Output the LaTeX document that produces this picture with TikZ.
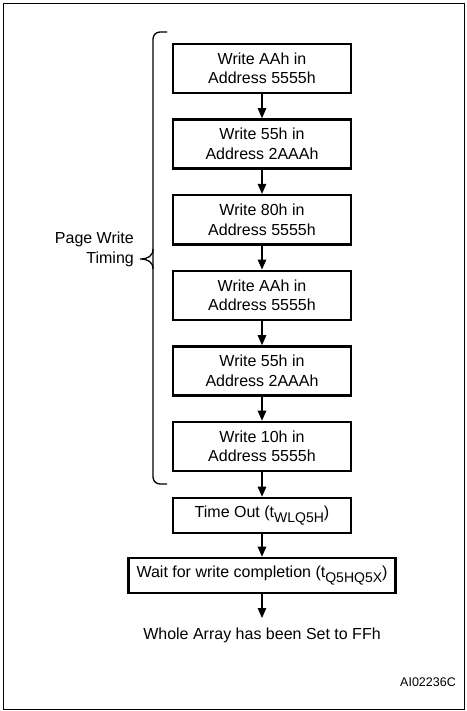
\documentclass[tikz,border=0pt]{standalone}
\usepackage{fontspec}
\setmainfont{Liberation Sans}
\usetikzlibrary{arrows.meta}
\newcommand\lowsub[1]{\raisebox{-4.5pt}{\fontsize{14}{14}\selectfont #1}}
\begin{document}
\begin{tikzpicture}[x=1pt,y=-1pt,
  stepbox/.style={draw, line width=2.6pt, minimum width=178pt, minimum height=49pt,
    align=center, inner sep=0pt, font=\fontsize{16}{19.5}\selectfont},
  flatbox/.style={draw, line width=2.6pt, minimum height=35pt, inner sep=0pt,
    font=\fontsize{16}{19.5}\selectfont},
  arr/.style={line width=1.3pt, -{Triangle[length=10pt,width=8.5pt]}},
  lbl/.style={font=\fontsize{16}{20}\selectfont, inner sep=0pt},
  brace/.style={line width=1.3pt}]
\useasboundingbox (0,0) rectangle (466,711);
\draw[line width=1pt] (3,4) rectangle (464,709);

\node[stepbox] (b1) at (262,68.5) {Write AAh in\\Address 5555h};
\node[stepbox] (b2) at (262,144) {Write 55h in\\Address 2AAAh};
\node[stepbox] (b3) at (262,219.7) {Write 80h in\\Address 5555h};
\node[stepbox] (b4) at (262,295.3) {Write AAh in\\Address 5555h};
\node[stepbox] (b5) at (262,371) {Write 55h in\\Address 2AAAh};
\node[stepbox] (b6) at (262,446.5) {Write 10h in\\Address 5555h};
\node[flatbox, minimum width=178pt] (to) at (262,515.5) {Time Out (t\lowsub{WLQ5H})};
\node[flatbox, minimum width=267pt] (wt) at (262,575.5) {Wait for write completion (t\lowsub{Q5HQ5X})};
\node[lbl, anchor=north, inner ysep=10pt] (fin) at (262,618) {Whole Array has been Set to FFh};

\draw[arr] (b1) -- (b2);
\draw[arr] (b2) -- (b3);
\draw[arr] (b3) -- (b4);
\draw[arr] (b4) -- (b5);
\draw[arr] (b5) -- (b6);
\draw[arr] (b6) -- (to);
\draw[arr] (to) -- (wt);
\draw[arr] (wt) -- (fin.north);

% brace
\coordinate (bt) at (167,32);
\coordinate (bb) at (167,484);
\coordinate (tip) at (140,259);
\draw[brace, rounded corners=7pt] (bt) -- (153,32) -- (153,484) -- (bb);
\draw[brace] (153,249) .. controls (153,256) and (148,259) .. (tip)
  .. controls (148,259) and (153,262) .. (153,269);
\node[lbl, align=right, anchor=east] (pw) at (134,249) {Page Write\\Timing};

\node[font=\fontsize{12.5}{14}\selectfont, inner sep=0pt] (id) at (428,682) {AI02236C};
\end{tikzpicture}
\end{document}
